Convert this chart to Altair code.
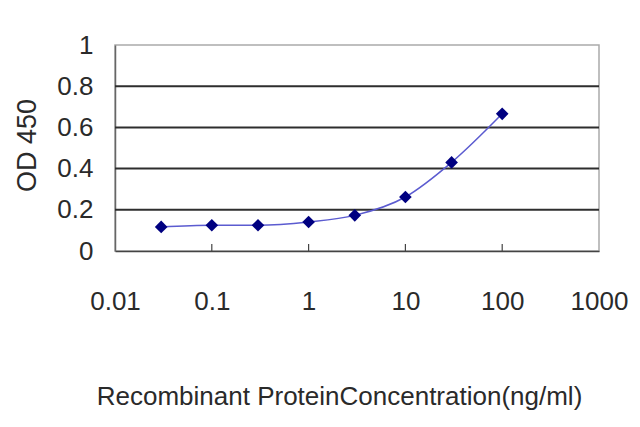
import altair as alt
import pandas as pd

# concentration (ng/ml) and OD 450 readings
conc = [0.03, 0.1, 0.3, 1, 3, 10, 30, 100]
od450 = [0.117, 0.125, 0.125, 0.141, 0.173, 0.262, 0.430, 0.666]

x_ticks = [0.01, 0.1, 1, 10, 100, 1000]
inner_ticks = [0.1, 1, 10, 100]
y_ticks = [0, 0.2, 0.4, 0.6, 0.8, 1]
grid_values = [0.2, 0.4, 0.6, 0.8]

df = pd.DataFrame({'conc': conc, 'od': od450})
grid_df = pd.DataFrame({'y': grid_values})
tick_df = pd.DataFrame({'x': inner_ticks})

W = 484
H = 206
FONT = 'Liberation Sans'

x_scale = alt.Scale(type='log', domain=[0.01, 1000])
y_scale = alt.Scale(domain=[0, 1], nice=False)

x_axis = alt.Axis(
    values=x_ticks, format='~g', grid=False, ticks=False, tickSize=0,
    labelFlush=False, labelOverlap=False, labelPadding=50, labelBaseline='middle',
    labelFontSize=26, labelFont=FONT, labelColor='#2a2a2a',
    domainColor='#444444', domainWidth=1.5,
    title='Recombinant ProteinConcentration(ng/ml)', titleFont=FONT, titleFontSize=26,
    titleFontWeight='normal', titleColor='#2a2a2a',
    titleX=224, titleY=153, titleAlign='center', titleBaseline='alphabetic'
)

y_axis = alt.Axis(
    values=y_ticks, format='~g', grid=False, ticks=False, tickSize=0,
    labelPadding=22, labelBaseline='middle', labelFlush=False, labelOverlap=False,
    labelFontSize=26, labelFont=FONT, labelColor='#2a2a2a',
    domainColor='#666666', domainWidth=1.5,
    title='OD 450', titleFont=FONT, titleFontSize=27, titleFontWeight='normal',
    titleColor='#2a2a2a', titleAngle=-90,
    titleX=-80, titleY=100, titleAlign='center', titleBaseline='alphabetic'
)

grid = alt.Chart(grid_df).mark_rule(color='#2e2e2e', strokeWidth=2).encode(
    y=alt.Y('y:Q', scale=y_scale, axis=y_axis)
)

ticks = alt.Chart(tick_df).mark_rule(color='#444444', strokeWidth=1.2).encode(
    x=alt.X('x:Q', scale=x_scale, axis=x_axis),
    y=alt.value(H),
    y2=alt.value(H - 7)
)

line = alt.Chart(df).mark_line(color='#5b5bd0', strokeWidth=1.5, interpolate='monotone').encode(
    x=alt.X('conc:Q', scale=x_scale, axis=x_axis),
    y=alt.Y('od:Q', scale=y_scale, axis=y_axis)
)

points = alt.Chart(df).mark_point(shape='diamond', filled=True, color='#000080',
                                  size=160, opacity=1).encode(
    x=alt.X('conc:Q', scale=x_scale, axis=x_axis),
    y=alt.Y('od:Q', scale=y_scale, axis=y_axis)
)

chart = (grid + ticks + line + points).properties(
    width=W,
    height=H,
    autosize=alt.AutoSizeParams(type='none'),
    padding={'left': 107, 'top': 37, 'right': 31, 'bottom': 164},
    background='white'
).configure_view(
    stroke='#aaaaaa',
    strokeWidth=1.5
)

chart.save("out.html", embed_options={"renderer": "svg", "actions": False})
